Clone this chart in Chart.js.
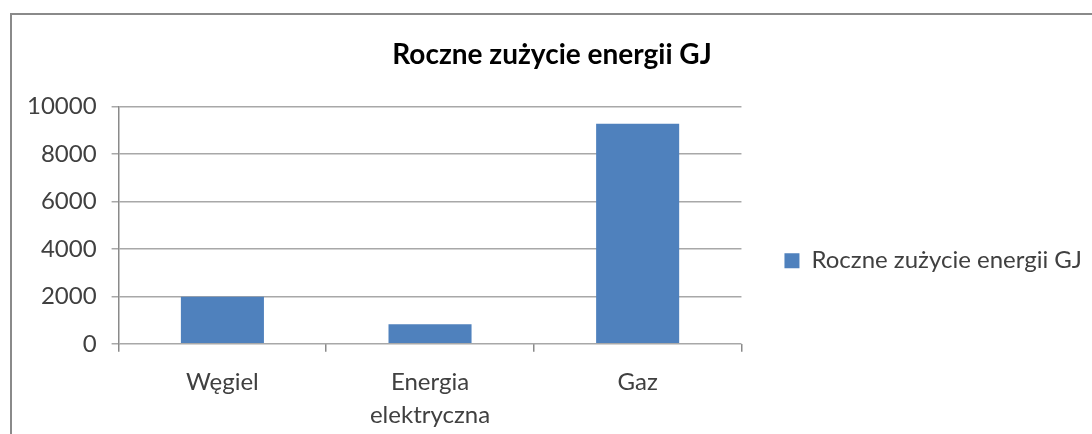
<!DOCTYPE html>
<html>
<head>
<meta charset="utf-8">
<script src="https://cdn.jsdelivr.net/npm/chart.js@4"></script>
<style>
  html, body { margin:0; padding:0; background:#fff; }
  #wrap { position:relative; width:1092px; height:434px; overflow:hidden; }
  #frame { position:absolute; left:10px; top:13px; width:1200px; height:600px; border:2px solid #8a8a8a; box-sizing:border-box; pointer-events:none; }
  canvas { position:absolute; left:0; top:0; }
</style>
</head>
<body>
<div id="wrap">
  <canvas id="c" width="1092" height="434"></canvas>
  <div id="frame"></div>
</div>
<script>
const categories = ['Węgiel', ['Energia', 'elektryczna'], 'Gaz'];
const seriesName = 'Roczne zużycie energii GJ';
const values = [1980, 820, 9280];
const yMin = 0, yMax = 10000, yStep = 2000;
const titleText = 'Roczne zużycie energii GJ';

const FONT = 'Lato, "Open Sans", sans-serif';

new Chart(document.getElementById('c'), {
  type: 'bar',
  data: {
    labels: categories,
    datasets: [{
      label: seriesName,
      data: values,
      backgroundColor: '#4F81BD',
      borderColor: '#4F81BD',
      borderWidth: 0,
      barPercentage: 0.4,
      categoryPercentage: 1.0
    }]
  },
  options: {
    responsive: false,
    animation: false,
    layout: { padding: { left: 12, right: 0, top: 38, bottom: -12 } },
    plugins: {
      title: {
        display: true,
        text: titleText,
        color: '#000',
        font: { family: FONT, size: 28, weight: 'bold' },
        padding: { top: 0, bottom: 35 }
      },
      legend: {
        display: true,
        position: 'right',
        maxWidth: 420,
        title: { display: true, text: ' ', font: { size: 12, lineHeight: 1.2 }, padding: { top: 0, bottom: 23 } },
        labels: {
          color: '#404040',
          font: { family: FONT, size: 24 },
          boxWidth: 15,
          boxHeight: 15,
          padding: 43
        }
      },
      tooltip: { enabled: false }
    },
    scales: {
      x: {
        offset: true,
        grid: { display: true, drawOnChartArea: false, drawTicks: true, offset: true, tickLength: 8, color: '#8a8a8a', lineWidth: 1.5 },
        border: { display: false },
        ticks: { color: '#404040', font: { family: FONT, size: 24, lineHeight: 1.4 }, padding: 13.5, maxRotation: 0 }
      },
      y: {
        min: yMin, max: yMax,
        ticks: { stepSize: yStep, color: '#404040', font: { family: FONT, size: 24 }, padding: 15,
                 callback: (v) => String(v) },
        grid: { color: '#a8a8a8', lineWidth: 1.5, tickLength: 7, drawTicks: true },
        border: { display: true, color: '#8a8a8a', width: 1.5 }
      }
    }
  }
});
</script>
</body>
</html>
